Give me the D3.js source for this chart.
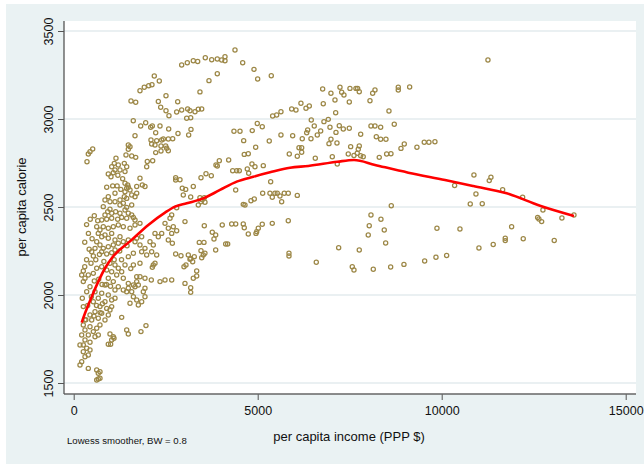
<!DOCTYPE html>
<html>
<head>
<meta charset="utf-8">
<script src="https://cdn.jsdelivr.net/npm/d3@7/dist/d3.min.js"></script>
<style>
body { margin: 0; background: #ffffff; }
svg { display: block; }
text { font-family: "Liberation Sans", Arial, sans-serif; }
</style>
</head>
<body>
<svg id="chart" width="644" height="464"></svg>
<script>
// ---- data: [income, calorie] pairs ----
const pointsUpperRight = [
[6765,3170],[6990,3146],[7236,3180],[7282,3152],[7344,3136],[7507,3174],[7670,3174],[7716,3174],[7760,3155],[7100,3108],[7489,3097],[8051,3104],[8124,3146],[8187,3165],[8820,3180],[8820,3165],[9129,3182],[5515,3023],[5632,3041],[5923,3057],[6040,3051],[6175,3089],[6312,3061],[6402,3074],[6782,3087],[7119,3036],[8567,3045],[6456,2994],[6800,2985],[6918,2998],[6537,2960],[6358,2937],[6331,2922],[6619,2909],[6711,2932],[6964,2953],[7127,2924],[7217,2962],[7326,2943],[7489,2947],[7798,2913],[8078,2960],[8187,2960],[8341,2953],[8711,2970],[5632,2909],[5950,2905],[6211,2888],[6448,2888],[8223,2899],[8341,2885],[8485,2885],[6991,2885],[6937,2860],[7154,2864],[6195,2837],[6122,2837],[6195,2811],[5858,2801],[6076,2788],[6565,2777],[7027,2786],[7461,2801],[7526,2843],[7616,2793],[7705,2805],[7760,2847],[7733,2828],[7798,2791],[7868,2786],[8303,2782],[8504,2801],[8621,2803],[8893,2833],[8983,2858],[9327,2839],[9526,2868],[9653,2868],[9816,2871],[7162,2744],
[5831,2578],[6076,2566],
[8630,2507],[8078,2455],[5831,2422],[8349,2430],[8031,2394],[8439,2369],[8004,2341],[9871,2379],[8477,2295],[5850,2237],[5850,2222],[7200,2269],[7760,2256],[6592,2186],[7570,2161],[7616,2142],[8141,2146],[8613,2159],[8974,2174],[9537,2193],[9844,2214]
];
const pointsFarRight = [
[11257,3335],[10876,2682],[11338,2669],[11292,2650],[10351,2622],[11656,2598],[10931,2574],[10776,2517],[11102,2519],[12199,2555],[12751,2483],[12607,2441],[12642,2432],[12716,2417],[13267,2437],[13594,2455],[10496,2375],[11900,2388],[11727,2322],[11727,2309],[12216,2320],[13058,2310],[11400,2287],[11012,2267],[10134,2225]
];
const pointsUpperMiddle = [
[4383,3392],[2934,3307],[3087,3320],[3250,3331],[3369,3327],[3576,3348],[3750,3337],[3902,3341],[4021,3335],[4111,3354],[4111,3331],[4592,3320],[4899,3282],[3902,3257],[3676,3218],[4999,3227],[5369,3246],[2190,3244],[2326,3216],[2127,3195],[2038,3189],[1918,3180],[1801,3161],[3431,3154],[2508,3132],[1557,3102],[1685,3095],[2300,3100],[2826,3098],[2364,3067],[2508,3047],[2589,3019],[2798,3040],[2934,3051],[3097,3057],[3160,3047],[3296,3041],[3386,3055],[3478,3057],[3070,3004],[3179,3007],[1619,2990],[1820,2960],[1956,2979],[2092,2953],[2136,2960],[2345,2960],[2581,2943],[2228,2922],[1666,2905],[3187,2941],[2834,2918],[3124,2909],[2100,2881],[2255,2877],[2391,2881],[2435,2886],[2571,2886],[2690,2888],[2119,2858],[2209,2852],[2372,2847],[2500,2847],[2527,2834],[2372,2818],[2228,2809],[2571,2820],[1530,2843],[1576,2790],[1685,2782],[2000,2758],[2146,2763],[1983,2729],[3866,2739],[3957,2763],[3902,2733],[4211,2767],[4355,2930],[4519,2930],[4852,2934],[4988,2975],[5124,2956],[4619,2877],[4945,2839],[5314,2875],[5406,3017],[4635,2799],[4744,2803],[4844,2744],[5152,2735]
];
const pointsMiddle = [
[4320,2706],[4429,2706],[4500,2706],[4717,2716],[4755,2692],[4926,2729],[2771,2666],[2888,2655],[2771,2653],[3459,2666],[3595,2689],[3739,2678],[2951,2606],[3043,2600],[3250,2616],[5352,2644],[4402,2597],[2978,2568],[3179,2557],[3431,2553],[3494,2541],[3549,2553],[3459,2530],[3567,2527],[3386,2511],[5135,2578],[5333,2578],[5396,2555],[5469,2578],[5532,2578],[5605,2563],[5722,2578],[4817,2536],[4907,2545],[5651,2530],[4608,2515],[4654,2511],[2798,2496],[2663,2455],[3024,2417],[3549,2394],[4037,2398],[4293,2403],[4402,2403],[4608,2403],[4635,2382],[4744,2347],[4972,2360],[5016,2379],[4953,2350],[5124,2402],[5396,2407],[2706,2388],[2663,2350],[2798,2365],[3766,2356],[3858,2341],[3812,2318],[3413,2299],[3540,2299],[4130,2290],[4184,2290],[3459,2252],[3522,2227],[3567,2237],[3858,2256],[2771,2233],[2915,2223],[3114,2227],[3179,2208],[3277,2218],[3233,2189],[3160,2203],[3478,2212],[2997,2160],[3051,2170],[3342,2136],[3342,2108],[3250,2095],[3024,2066],[3179,2041],[3179,2015],[2663,2085]
];
const pointsLeftUpper = [
[516,2830],[443,2814],[397,2801],[361,2757],[1484,2852],[1484,2828],[1421,2796],[1149,2777],[1103,2748],[1032,2729],[1212,2739],[1258,2710],[1122,2710],[1076,2695],[1375,2748],[1440,2729],[1394,2701],
[940,2688],[1013,2672],[1394,2635],[1467,2625],[1440,2606],[1484,2612],[1530,2597],[1394,2587],[1801,2663],[1864,2625],[1937,2616],[1712,2616],[897,2612],[1122,2578],[940,2558],[850,2540],[986,2530],[1122,2530],[1258,2540],[1375,2558],[1440,2549],[1576,2568],[1666,2558],[1712,2578],[1258,2511],[1348,2521],[1440,2498],[1576,2511],[1394,2483],[804,2502],[986,2487],[924,2473],[1032,2464],[1140,2473],[1258,2464],[850,2455],[761,2426],[897,2430],[1032,2436],[1195,2430],[1304,2441],[1440,2436],[652,2422],[1576,2455],[1666,2426],[1622,2441],[1484,2464],[625,2388],[714,2369],[804,2388],[940,2379],[1076,2388],[1212,2398],[1348,2388],[1530,2379],[1666,2398],[1801,2407],[668,2350],[761,2331],[850,2341],[940,2322],[1032,2350],[1122,2313],[1258,2331],[1348,2303],[1484,2313],[1712,2322],[1847,2331],[625,2303],[714,2284],[804,2265],[940,2274],[1076,2284],[1212,2294],[1122,2256],[579,2265],[761,2246],[897,2233],[1032,2240],[489,2246],[533,2222],[1666,2303],[1801,2284],[1937,2265],[2073,2303],[2163,2284],[2299,2331],[2209,2350],[2391,2350],[2571,2379],[2481,2407],[2617,2436],[2571,2313],[2681,2294],[1847,2246],[1983,2227],[2119,2246],[2255,2227],[1484,2218],[1622,2237],
[1180,2620],[1280,2600],[1330,2660],[1200,2680],[1060,2620]
];
const pointsLeftLower = [
[1801,2180],[1622,2170],[1394,2170],[2136,2157],[2209,2180],[261,2136],[217,2114],[307,2095],[261,2076],[397,2114],[533,2123],[625,2152],[761,2160],[897,2142],[1032,2132],[1168,2114],[940,2095],[1076,2076],[850,2057],[1212,2047],[1122,2028],[443,2047],[353,2019],[579,2019],[761,2010],[940,2000],[668,1981],[850,1962],[533,1962],[1032,1972],[897,1924],[714,1934],[579,1905],[761,1896],[940,1886],[443,1886],[261,1934],[234,1981],[668,1868],[489,1858],[850,1858],[1348,2095],[1484,2066],[1032,1934],[986,1915],[1122,1981],[986,2180],[1122,2170],[1212,2152],[1304,2132],[1348,2028],[1484,2038],[1576,2019],[1666,2047],[1622,1990],[1712,1972],[1530,1953],[1756,1943],[1847,1962],[1937,1990],[1622,2057],[1756,2057],[1712,2076],[1440,2019],[1892,2019],[1937,2038],[1304,1873],[1964,1826],[1828,1792],[1440,1801],[1484,1778],[986,1778],[1076,1763],[1032,1744],[1095,1754],[940,1720],[1004,1720],[714,1830],[625,1811],[533,1792],[443,1820],[307,1801],[579,1763],[668,1773],[397,1773],[307,1744],[443,1731],[353,1697],[261,1678],[307,1649],[217,1621],[171,1602],[397,1659],[443,1688],[261,1716],[397,1583],[625,1574],[714,1564],[668,1555],[625,1517],[668,1523],[714,1527],[171,1716],[217,1773],[261,1830],[307,1858],[2109,2085],[2163,2170],[1937,2095],[2345,2076],[2481,2085],[1712,2104],[1801,2104]
];
const pointsDenseColumn = [
[350,2400],[450,2430],[560,2450],[400,2350],[500,2320],[300,2300],[420,2260],[350,2200],[470,2180],[600,2200],[300,2160],[700,2230],[820,2190],[560,2080],[680,2090],[770,2060],[480,1990],[620,1940],[780,1950],[890,2060],[1000,2050],[380,1940],[550,1880],[720,1900],[330,1860],[1100,2200],[1250,2250],[1300,2200],[1450,2280],[1550,2150]
];

// lowess smoother (BW = 0.8)
const lowessIncome  = [217,307,489,668,851,1033,1576,2027,2481,2753,3071,3522,3976,4429,4880,5334,5878,6375,7163,7617,8188,9092,10090,10859,11766,12671,13594];
const lowessCalorie = [1843,1896,1990,2076,2152,2209,2313,2398,2468,2502,2521,2549,2597,2644,2672,2697,2723,2733,2757,2767,2739,2695,2653,2619,2578,2507,2449];

const xTicks = [0, 5000, 10000, 15000];
const yTicks = [1500, 2000, 2500, 3000, 3500];

const xTitle = "per capita income (PPP $)";
const yTitle = "per capita calorie";
const noteText = "Lowess smoother, BW = 0.8";

// ---- drawing ----
const svg = d3.select("#chart");
const W = 644, H = 464;

svg.append("rect").attr("x", 6).attr("y", 4).attr("width", W - 6).attr("height", H - 4)
  .attr("fill", "#eaf2f3");

const plot = {left: 64, right: 636, top: 21, bottom: 394};
svg.append("rect").attr("x", plot.left).attr("y", plot.top)
  .attr("width", plot.right - plot.left).attr("height", plot.bottom - plot.top)
  .attr("fill", "#ffffff");

const x = d3.scaleLinear().domain([0, 15000]).range([73.7, 625.7]);
const y = d3.scaleLinear().domain([1500, 3500]).range([383, 31]);

svg.append("g").selectAll("line").data(yTicks).join("line")
  .attr("x1", plot.left).attr("x2", plot.right)
  .attr("y1", d => y(d)).attr("y2", d => y(d))
  .attr("stroke", "#e3ebee").attr("stroke-width", 1.3);

const allPoints = [].concat(pointsUpperRight, pointsFarRight, pointsUpperMiddle,
  pointsMiddle, pointsLeftUpper, pointsLeftLower, pointsDenseColumn);
svg.append("g").selectAll("circle").data(allPoints).join("circle")
  .attr("cx", d => x(d[0])).attr("cy", d => y(d[1])).attr("r", 2.1)
  .attr("fill", "none").attr("stroke", "#9c8746").attr("stroke-width", 1.25);

const lowessData = lowessIncome.map((v, i) => [v, lowessCalorie[i]]);
svg.append("path").datum(lowessData)
  .attr("d", d3.line().x(d => x(d[0])).y(d => y(d[1])).curve(d3.curveMonotoneX))
  .attr("fill", "none").attr("stroke", "#ff0000").attr("stroke-width", 2.6)
  .attr("stroke-linejoin", "round");

const xAxis = d3.axisBottom(x).tickValues(xTicks).tickFormat(d3.format("d")).tickSize(6).tickPadding(6);
const gx = svg.append("g").attr("transform", `translate(0,${plot.bottom})`).call(xAxis);
gx.select(".domain").remove();
gx.selectAll(".tick line").attr("stroke", "#555").attr("stroke-width", 1);
gx.selectAll(".tick text").attr("font-size", 12.5).attr("fill", "#111")
  .attr("font-family", "'Liberation Sans', Arial, sans-serif");
svg.append("line").attr("x1", plot.left).attr("x2", plot.right)
  .attr("y1", plot.bottom).attr("y2", plot.bottom).attr("stroke", "#666").attr("stroke-width", 1.3);

const yAxis = d3.axisLeft(y).tickValues(yTicks).tickFormat(d3.format("d")).tickSize(6).tickPadding(0);
const gy = svg.append("g").attr("transform", `translate(${plot.left},0)`).call(yAxis);
gy.select(".domain").remove();
gy.selectAll(".tick line").attr("stroke", "#555").attr("stroke-width", 1);
gy.selectAll(".tick text").attr("font-size", 12.5).attr("fill", "#111")
  .attr("font-family", "'Liberation Sans', Arial, sans-serif")
  .attr("x", -11.5).attr("dy", 0).attr("text-anchor", "middle")
  .attr("transform", "rotate(-90,-11.5,0)");
svg.append("line").attr("x1", plot.left).attr("x2", plot.left)
  .attr("y1", plot.top).attr("y2", plot.bottom).attr("stroke", "#555").attr("stroke-width", 1.3);

svg.append("text").attr("x", 349).attr("y", 441).attr("text-anchor", "middle")
  .attr("font-size", 13).attr("fill", "#111").text(xTitle);
svg.append("text").attr("transform", "translate(26,207) rotate(-90)")
  .attr("text-anchor", "middle").attr("font-size", 13).attr("fill", "#111").text(yTitle);
svg.append("text").attr("x", 67).attr("y", 444).attr("font-size", 9.6)
  .attr("fill", "#111").text(noteText);
</script>
</body>
</html>
